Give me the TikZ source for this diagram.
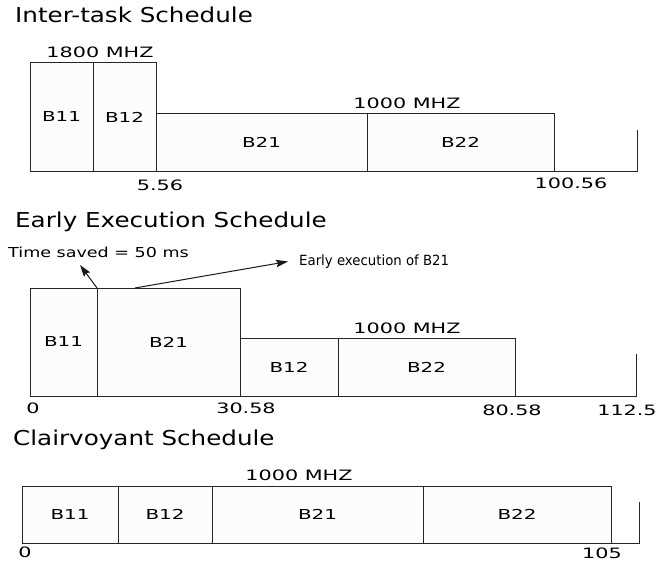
\documentclass[tikz,border=0pt]{standalone}
\usepackage{fontspec}
\setmainfont{DejaVu Sans}
\newfontfamily\titlef{DejaVu Sans}[FakeStretch=1.2]
\newfontfamily\widef{DejaVu Sans}[FakeStretch=1.45]
\newfontfamily\notef{DejaVu Sans}[FakeStretch=1.28]
\newfontfamily\narrowf{DejaVu Sans}[FakeStretch=0.95]
\usetikzlibrary{arrows.meta}
\begin{document}
\begin{tikzpicture}[x=1pt,y=-1pt,
  blk/.style={draw=black!85, fill=black!1, line width=1pt, inner sep=0pt, outer sep=0pt,
    font=\widef\fontsize{13.7}{16}\selectfont},
  ttl/.style={anchor=base west, inner sep=0pt, font=\titlef\fontsize{20.5}{24}\selectfont},
  lbl/.style={anchor=base, inner sep=0pt, font=\widef\fontsize{14.3}{17}\selectfont},
  note/.style={anchor=base west, inner sep=0pt, font=\notef\fontsize{13.7}{16}\selectfont},
  axis/.style={draw=black!85, line width=1pt},
  arr/.style={draw=black!90, line width=1pt, -{Stealth[length=12pt,width=7.5pt,inset=2pt]}}]
\useasboundingbox[fill=white] (0,0) rectangle (661,562);

% ---------- Inter-task schedule ----------
\node[ttl] (t1) at (15,23) {Inter-task Schedule};
\node[blk, minimum width=63pt, minimum height=109pt] (a11) at (61.5,117) {B11};
\node[blk, minimum width=63pt, minimum height=109pt] (a12) at (124.5,117) {B12};
\node[blk, minimum width=211pt, minimum height=58pt] (a21) at (261.5,142.5) {B21};
\node[blk, minimum width=187pt, minimum height=58pt] (a22) at (460.5,142.5) {B22};
\coordinate (e1) at (637,171.5);
\coordinate (k1) at (637,130);
\draw[axis] (a22.south east) -- (e1) -- (k1);
\node[lbl] (f1) at (100,57) {1800 MHZ};
\node[lbl] (f2) at (407,108) {1000 MHZ};
\node[lbl] (n1) at (160,190) {5.56};
\node[lbl] (n2) at (571,188) {100.56};

% ---------- Early execution schedule ----------
\node[ttl] (t2) at (15,227) {Early Execution Schedule};
\node[blk, minimum width=67pt, minimum height=108pt] (b11) at (63.5,342) {B11};
\node[blk, minimum width=143pt, minimum height=108pt] (b21) at (168.5,342) {B21};
\node[blk, minimum width=98pt, minimum height=58pt] (b12) at (289,367) {B12};
\node[blk, minimum width=177pt, minimum height=58pt] (b22) at (426.5,367) {B22};
\coordinate (e2) at (636,396);
\coordinate (k2) at (636,354);
\draw[axis] (b22.south east) -- (e2) -- (k2);
\node[lbl] (f3) at (407,333) {1000 MHZ};
\node[note] (ts) at (8,257) {Time saved = 50 ms};
\node[note, font=\narrowf\fontsize{14}{16}\selectfont] (ee) at (299,265) {Early execution of B21};
\coordinate (tsa) at (80,265);
\coordinate (eea) at (288,261.5);
\draw[arr] (b21.north west) -- (tsa);
\draw[arr] ([xshift=38pt]b21.north west) -- (eea);
\node[lbl] (m0) at (33,413) {0};
\node[lbl] (m1) at (246,413) {30.58};
\node[lbl] (m2) at (512,415) {80.58};
\node[lbl] (m3) at (627,415) {112.5};

% ---------- Clairvoyant schedule ----------
\node[ttl] (t3) at (13,445) {Clairvoyant Schedule};
\node[blk, minimum width=96pt, minimum height=57pt] (c11) at (70,514.5) {B11};
\node[blk, minimum width=94pt, minimum height=57pt] (c12) at (165,514.5) {B12};
\node[blk, minimum width=211pt, minimum height=57pt] (c21) at (317.5,514.5) {B21};
\node[blk, minimum width=188pt, minimum height=57pt] (c22) at (517,514.5) {B22};
\coordinate (e3) at (639,543);
\coordinate (k3) at (639,502);
\draw[axis] (c22.south east) -- (e3) -- (k3);
\node[lbl] (f4) at (299,480) {1000 MHZ};
\node[lbl] (z0) at (25,557) {0};
\node[lbl] (z1) at (602,558) {105};
\end{tikzpicture}
\end{document}
